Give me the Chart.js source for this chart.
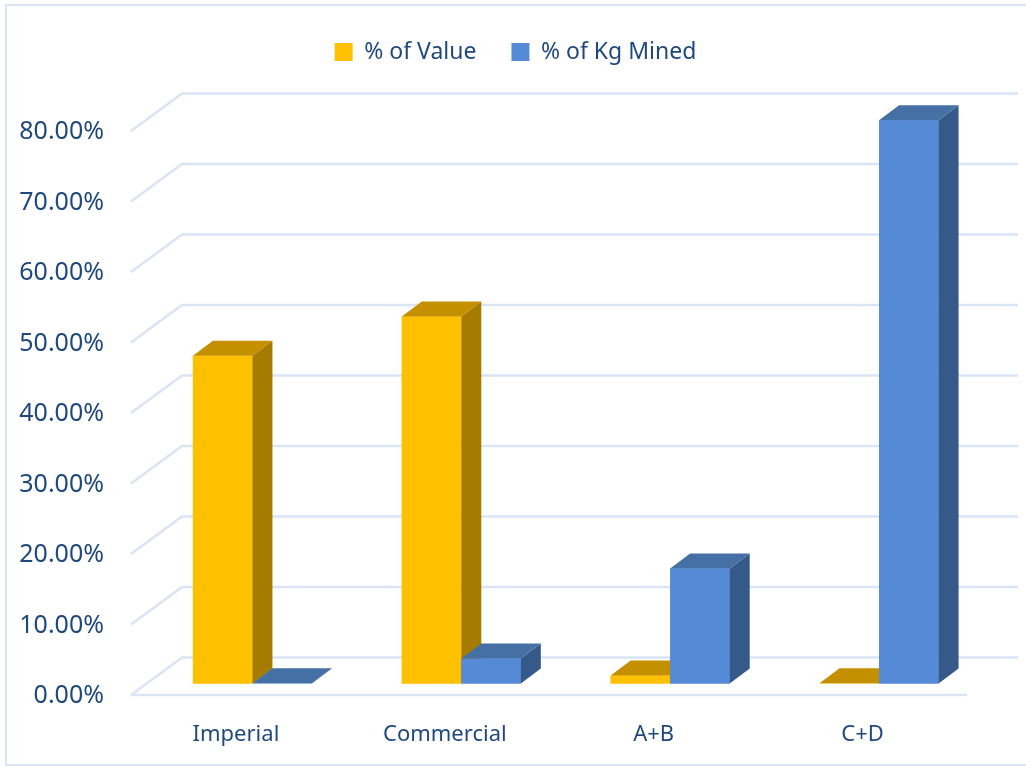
<!DOCTYPE html>
<html>
<head>
<meta charset="utf-8">
<style>
    html, body { margin: 0; padding: 0; background: #fff; overflow: hidden; }
    canvas { display: block; }
</style>
<script src="https://cdn.jsdelivr.net/npm/chart.js@4"></script>
</head>
<body>
<canvas id="chart" width="1026" height="766"></canvas>
<script>
const categories = ["Imperial", "Commercial", "A+B", "C+D"];
const valueShare = [46.5, 52.05, 1.13, 0.05];
const kgShare = [0.05, 3.55, 16.3, 79.9];
const tickLabels = ["0.00%", "10.00%", "20.00%", "30.00%", "40.00%", "50.00%", "60.00%", "70.00%", "80.00%"];

const textColor = "#1F497D";
const gridColor = "#D9E5F5";
const fontFamily = "'Noto Sans', sans-serif";
const depthX = 20, depthY = 15;

// side and top colours of the fake 3D bars, by dataset index
const faces = [
    { top: "#C49000", side: "#A67C00" },
    { top: "#4470A5", side: "#355A8A" }
];

function line(ctx, x1, y1, x2, y2, x3, y3) {
    ctx.beginPath();
    ctx.moveTo(x1, y1);
    ctx.lineTo(x2, y2);
    if (x3 !== undefined) ctx.lineTo(x3, y3);
    ctx.stroke();
}

function poly(ctx, color, pts) {
    ctx.fillStyle = color;
    ctx.beginPath();
    ctx.moveTo(pts[0], pts[1]);
    for (let i = 2; i < pts.length; i += 2) ctx.lineTo(pts[i], pts[i + 1]);
    ctx.closePath();
    ctx.fill();
}

const frame3d = {
    id: "frame3d",
    beforeInit(chart) {
        // leave room between legend and plot
        const fit = chart.legend.fit;
        chart.legend.fit = function () {
            fit.call(this);
            this.height += 46;
        };
    },
    afterLayout(chart) {
        // legend sits centred on the whole picture, not on the plot side
        chart.legend.right = 1031;
    },
    beforeDraw(chart) {
        const ctx = chart.ctx;
        ctx.save();
        ctx.strokeStyle = gridColor;
        ctx.lineWidth = 2;
        ctx.beginPath();
        ctx.moveTo(1026, 5);
        ctx.lineTo(6, 5);
        ctx.lineTo(6, 765);
        ctx.lineTo(1026, 765);
        ctx.stroke();
        ctx.restore();
    },
    beforeDatasetsDraw(chart) {
        const ctx = chart.ctx, y = chart.scales.y, area = chart.chartArea;
        ctx.save();
        ctx.strokeStyle = gridColor;
        ctx.lineWidth = 2.5;
        y.ticks.forEach(t => {
            const py = y.getPixelForValue(t.value);
            // side wall then back wall
            line(ctx, area.left - 17, py + 11.5, area.left + 34, py - 26, area.right + 34.5, py - 26);
        });
        // front edge of the floor
        const floor = y.getPixelForValue(0) + 11.5;
        line(ctx, area.left - 17, floor, area.right - 16.5, floor);
        ctx.restore();
    },
    afterDatasetsDraw(chart) {
        const ctx = chart.ctx;
        // repaint left to right so each series covers the side of the one before it
        chart.data.datasets.forEach((ds, i) => {
            const f = faces[i];
            chart.getDatasetMeta(i).data.forEach(bar => {
                const l = bar.x - bar.width / 2, r = bar.x + bar.width / 2;
                bar.draw(ctx);
                poly(ctx, f.side, [r, bar.y, r + depthX, bar.y - depthY, r + depthX, bar.base - depthY, r, bar.base]);
                poly(ctx, f.top, [l, bar.y, l + depthX, bar.y - depthY, r + depthX, bar.y - depthY, r, bar.y]);
            });
        });
    }
};

new Chart(document.getElementById("chart"), {
    type: "bar",
    data: {
        labels: categories,
        datasets: [
            { label: "% of Value", data: valueShare, backgroundColor: "#FFC000", clip: false },
            { label: "% of Kg Mined", data: kgShare, backgroundColor: "#558BD6", clip: false }
        ]
    },
    options: {
        responsive: false,
        animation: false,
        categoryPercentage: 0.57,
        barPercentage: 1,
        layout: { padding: { top: 5.5, right: 42.5, left: 0, bottom: 0 } },
        plugins: {
            tooltip: { enabled: false },
            legend: {
                position: "top",
                labels: {
                    color: textColor,
                    font: { family: fontFamily, size: 23 },
                    boxWidth: 18,
                    boxHeight: 18,
                    padding: 35
                }
            }
        },
        scales: {
            x: {
                grid: { display: false, drawTicks: false },
                border: { display: false },
                afterFit(scale) { scale.height = 82.5; },
                ticks: {
                    color: textColor,
                    font: { family: fontFamily, size: 22 },
                    padding: 38,
                    labelOffset: -16.5,
                    maxRotation: 0
                }
            },
            y: {
                min: 0,
                max: 80,
                grid: { display: false, drawTicks: false },
                border: { display: false },
                afterFit(scale) { scale.width = 148; },
                ticks: {
                    stepSize: 10,
                    color: textColor,
                    font: { family: fontFamily, size: 25 },
                    padding: 44,
                    labelOffset: 12.5,
                    callback: (v, i) => tickLabels[i]
                }
            }
        }
    },
    plugins: [frame3d]
});
</script>
</body>
</html>
